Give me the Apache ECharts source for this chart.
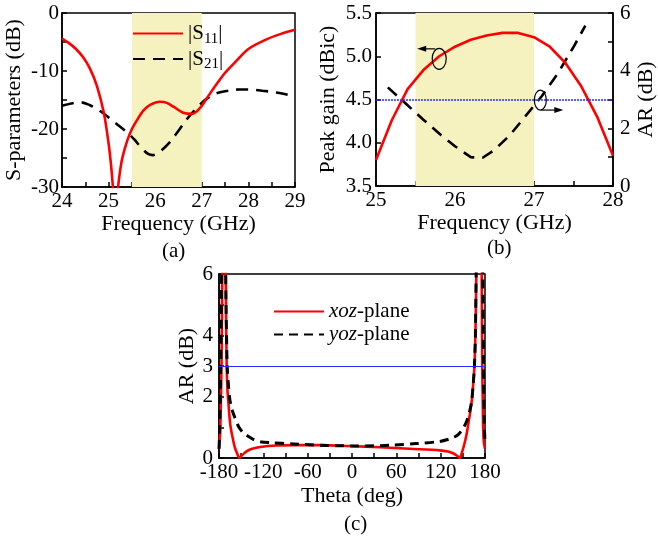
<!DOCTYPE html>
<html>
<head>
<meta charset="utf-8">
<script src="https://cdn.jsdelivr.net/npm/echarts@6/dist/echarts.min.js"></script>
<style>
  html, body { margin: 0; padding: 0; background: #fff; }
  #chart { width: 658px; height: 542px; }
</style>
</head>
<body>
<div id="chart"></div>
<script>
// ---- (a) S-parameters versus frequency ----
const s11Freq = [24, 24.15, 24.3, 24.45, 24.6, 24.75, 24.9, 25.0, 25.05, 25.1, 25.15, 25.2, 25.25, 25.3, 25.4, 25.5, 25.6, 25.75, 25.9, 26.1, 26.25, 26.4, 26.6, 26.8, 26.9, 27.0, 27.1, 27.2, 27.35, 27.5, 27.7, 28.0, 28.4, 28.7, 29];
const s11dB = [-4.4, -5.2, -6.2, -7.6, -9.6, -12.6, -17.3, -22.5, -26, -31, -40, -30.5, -27, -24.8, -22.0, -20.0, -18.6, -16.8, -15.8, -15.3, -15.5, -16.2, -17.2, -17.4, -16.9, -16.0, -14.8, -13.6, -11.9, -10.3, -8.6, -6.2, -4.5, -3.6, -2.9];
const s21Freq = [24, 24.2, 24.4, 24.6, 24.8, 25.0, 25.2, 25.4, 25.55, 25.7, 25.85, 25.95, 26.1, 26.3, 26.5, 26.7, 26.9, 27.1, 27.3, 27.5, 27.8, 28.0, 28.3, 28.6, 28.8, 29];
const s21dB = [-16.0, -15.6, -15.4, -15.9, -16.8, -18.0, -19.3, -20.6, -21.8, -23.2, -24.3, -24.5, -23.9, -22.4, -20.3, -18.1, -16.3, -14.8, -13.9, -13.5, -13.2, -13.2, -13.4, -13.7, -14.0, -14.4];

// ---- (b) peak gain and axial ratio versus frequency ----
const gainFreq = [25.0, 25.2, 25.4, 25.6, 25.8, 26.0, 26.2, 26.4, 26.6, 26.8, 27.0, 27.2, 27.4, 27.6, 27.8, 28.0];
const gainDBic = [3.80, 4.26, 4.62, 4.84, 5.00, 5.11, 5.19, 5.24, 5.27, 5.27, 5.22, 5.11, 4.92, 4.65, 4.30, 3.85];
const arFreq = [25.15, 25.4, 25.6, 25.8, 26.0, 26.2, 26.35, 26.5, 26.7, 26.9, 27.1, 27.3, 27.5, 27.65];
const arDB = [3.42, 2.80, 2.30, 1.82, 1.38, 1.00, 0.98, 1.25, 1.78, 2.45, 3.12, 3.90, 4.82, 5.56];

// ---- (c) axial ratio versus theta ----
const xozTheta = [-180, -178.5, -177.5, -176.5, -175.5, -174.5, -173, -171.5, -170.5, -169.6, -168.5, -167.4, -166, -164.2, -161, -158.4, -155, -152.5, -150, -146, -142.5, -135, -124.5, -102, -75, -43, -3, 38, 78, 119, 130, 135, 140, 143, 146, 149, 152, 155, 158, 160, 162, 164, 165.6, 167, 168, 169, 171, 173, 174.5, 175.5, 176.3, 177, 177.6, 178.5, 180];
const xozAR = [0.3, 0.8, 1.8, 3.2, 6.5, 9, 10, 8, 5, 3.0, 2.2, 1.86, 1.4, 1.0, 0.6, 0.33, 0.12, 0.0, 0.06, 0.15, 0.22, 0.3, 0.36, 0.41, 0.42, 0.42, 0.39, 0.35, 0.30, 0.25, 0.21, 0.17, 0.11, 0.06, 0.0, 0.2, 0.45, 0.77, 1.2, 1.5, 1.86, 2.4, 2.94, 4.0, 5.5, 7.5, 10, 10, 8, 6, 3, 1.8, 0.9, 0.5, 0.3];
const yozTheta = [-180, -179, -178, -177, -176, -174, -172, -170.5, -169.5, -168.8, -167, -165, -162, -158.4, -153, -147, -140, -133.6, -124, -111, -79, -34, 11, 56, 87, 119, 132, 140, 144, 150, 155.2, 159, 162, 164, 165.6, 167, 168, 170, 173, 175.5, 177, 178, 179, 180];
const yozAR = [0.3, 1.0, 2.5, 4.5, 7, 9, 8, 5, 3.6, 2.94, 2.3, 1.86, 1.55, 1.31, 1.0, 0.82, 0.7, 0.61, 0.53, 0.5, 0.46, 0.41, 0.39, 0.42, 0.47, 0.54, 0.62, 0.7, 0.77, 0.95, 1.2, 1.5, 1.86, 2.4, 2.94, 4, 6, 9, 10, 9, 6, 3, 1.2, 0.5];

// band and threshold
const bandStart = 25.5, bandEnd = 27;
const arLimit = 3;

const FONT = '"Liberation Serif", "Times New Roman", serif';
const TICK = 21, NAME = 22;
const RED = '#ff0000', BLACK = '#000000', BLUE = '#2b2bff', SHADE = '#f6f2c0';

const pairs = (xs, ys) => xs.map((x, i) => [x, ys[i]]);

function xAx(grid, min, max, interval, labelEvery, name, gap) {
  return {
    type: 'value', gridIndex: grid, min, max, interval,
    name, nameLocation: 'middle', nameGap: gap,
    nameTextStyle: { fontFamily: FONT, fontSize: NAME, color: '#000' },
    axisLine: { show: true, onZero: false, lineStyle: { color: '#000', width: 1.5 } },
    axisTick: { show: true, inside: true, length: 5, lineStyle: { color: '#000', width: 1.5 } },
    axisLabel: {
      fontFamily: FONT, fontSize: TICK, color: '#000', margin: 4, showMinLabel: true, showMaxLabel: true,
      formatter: v => (Math.abs(Math.round(v / labelEvery) * labelEvery - v) < 1e-6 ? String(v) : '')
    },
    splitLine: { show: false }
  };
}
function yAx(grid, min, max, interval, fmt, name, gap, pos, margin) {
  return {
    type: 'value', gridIndex: grid, min, max, interval, position: pos || 'left',
    name, nameLocation: 'middle', nameGap: gap,
    nameTextStyle: { fontFamily: FONT, fontSize: NAME, color: '#000' },
    axisLine: { show: true, onZero: false, lineStyle: { color: '#000', width: 1.5 } },
    axisTick: { show: true, inside: true, length: 5, lineStyle: { color: '#000', width: 1.5 } },
    axisLabel: { fontFamily: FONT, fontSize: TICK, color: '#000', margin: margin, formatter: fmt },
    splitLine: { show: false }
  };
}

const chart = echarts.init(document.getElementById('chart'), null, { renderer: 'canvas' });

const option = {
  backgroundColor: '#fff',
  animation: false,
  textStyle: { fontFamily: FONT },
  grid: [
    { left: 62, top: 13, width: 233, height: 174, show: true, borderColor: '#000', borderWidth: 1.5, backgroundColor: 'transparent' },
    { left: 376, top: 13, width: 238, height: 173, show: true, borderColor: '#000', borderWidth: 1.5, backgroundColor: 'transparent' },
    { left: 219, top: 274, width: 266, height: 184, show: true, borderColor: '#000', borderWidth: 1.5, backgroundColor: 'transparent' }
  ],
  xAxis: [
    xAx(0, 24, 29, 0.5, 1, 'Frequency (GHz)', 25),
    xAx(1, 25, 28, 0.5, 1, 'Frequency (GHz)', 25),
    xAx(2, -180, 180, 30, 60, 'Theta (deg)', 27)
  ],
  yAxis: [
    yAx(0, -30, 0, 5, v => (v % 10 === 0 ? String(v) : ''), 'S-parameters (dB)', 37, 'left', 3),
    yAx(1, 3.5, 5.5, 0.5, v => v.toFixed(1), 'Peak gain (dBic)', 37, 'left', 4),
    yAx(1, 0, 6, 1, v => (v % 2 === 0 ? String(v) : ''), 'AR (dB)', 22, 'right', 7),
    yAx(2, 0, 6, 1, v => ([0, 2, 3, 4, 6].includes(v) ? String(v) : ''), 'AR (dB)', 20, 'left', 6)
  ],
  legend: [
    {
      left: 127, top: 18, orient: 'vertical', itemWidth: 50, itemHeight: 14, itemGap: 2,
      itemStyle: { opacity: 0 },
      data: ['S11', 'S21'],
      formatter: n => '{m||S}{s|' + n.slice(1) + '}{m||}',
      textStyle: {
        color: '#000', fontFamily: FONT, fontSize: TICK,
        rich: {
          m: { fontFamily: FONT, fontSize: TICK, lineHeight: 26, color: '#000' },
          s: { fontFamily: FONT, fontSize: 15, lineHeight: 12, verticalAlign: 'bottom', color: '#000' }
        }
      }
    },
    {
      left: 268, top: 296, orient: 'vertical', itemWidth: 50, itemHeight: 14, itemGap: 2,
      itemStyle: { opacity: 0 },
      data: ['xoz-plane', 'yoz-plane'],
      formatter: n => '{i|' + n.split('-')[0] + '}{m|-plane}',
      textStyle: {
        color: '#000', fontFamily: FONT, fontSize: TICK,
        rich: {
          i: { fontFamily: FONT, fontSize: TICK, fontStyle: 'italic', lineHeight: 26, color: '#000' },
          m: { fontFamily: FONT, fontSize: TICK, lineHeight: 26, color: '#000' }
        }
      }
    }
  ],
  series: [
    {
      name: 'S11', type: 'line', xAxisIndex: 0, yAxisIndex: 0, data: pairs(s11Freq, s11dB),
      smooth: 0.3, symbol: 'none', lineStyle: { color: RED, width: 2.6 }, itemStyle: { color: RED }, z: 3,
      markArea: { silent: true, itemStyle: { color: SHADE }, data: [[{ xAxis: bandStart }, { xAxis: bandEnd }]] }
    },
    {
      name: 'S21', type: 'line', xAxisIndex: 0, yAxisIndex: 0, data: pairs(s21Freq, s21dB),
      smooth: 0.35, symbol: 'none', lineStyle: { color: BLACK, width: 2.6, type: [12, 8] }, itemStyle: { color: BLACK }, z: 2
    },
    {
      name: 'gain', type: 'line', xAxisIndex: 1, yAxisIndex: 1, data: pairs(gainFreq, gainDBic),
      symbol: 'none', lineStyle: { color: RED, width: 2.6 }, itemStyle: { color: RED }, z: 3,
      markArea: { silent: true, itemStyle: { color: SHADE }, data: [[{ xAxis: bandStart }, { xAxis: bandEnd }]] }
    },
    {
      name: 'AR', type: 'line', xAxisIndex: 1, yAxisIndex: 2, data: pairs(arFreq, arDB),
      symbol: 'none', lineStyle: { color: BLACK, width: 2.6, type: [12, 8] }, itemStyle: { color: BLACK }, z: 2,
      markLine: { silent: true, symbol: 'none', label: { show: false }, lineStyle: { color: BLUE, width: 1.5, type: [2, 1] }, data: [{ yAxis: arLimit }] }
    },
    {
      name: 'xoz-plane', type: 'line', xAxisIndex: 2, yAxisIndex: 3, data: pairs(xozTheta, xozAR),
      smooth: 0.3, symbol: 'none', lineStyle: { color: RED, width: 2.6 }, itemStyle: { color: RED }, z: 3,
      markLine: { silent: true, symbol: 'none', label: { show: false }, lineStyle: { color: BLUE, width: 1.2, type: 'solid' }, data: [{ yAxis: arLimit }] }
    },
    {
      name: 'yoz-plane', type: 'line', xAxisIndex: 2, yAxisIndex: 3, data: pairs(yozTheta, yozAR),
      smooth: 0.3, symbol: 'none', lineStyle: { color: BLACK, width: 3, type: [9, 6] }, itemStyle: { color: BLACK }, z: 4
    }
  ],
  graphic: [
    { type: 'text', left: 162, top: 241, style: { text: '(a)', font: '21px ' + FONT, fill: '#000' } },
    { type: 'text', left: 487, top: 238, style: { text: '(b)', font: '21px ' + FONT, fill: '#000' } },
    { type: 'text', left: 344, top: 514, style: { text: '(c)', font: '21px ' + FONT, fill: '#000' } }
  ]
};
chart.setOption(option);

// Pointer ellipses with arrows telling which axis each curve of (b) uses
const p1 = chart.convertToPixel({ xAxisIndex: 1, yAxisIndex: 1 }, [25.8, 4.97]);
const p2 = chart.convertToPixel({ xAxisIndex: 1, yAxisIndex: 2 }, [27.08, 2.98]);
function arrow(x1, y1, x2, y2) {
  const dir = Math.sign(x2 - x1);
  return [
    { type: 'line', shape: { x1, y1, x2: x2 - dir * 6, y2 }, style: { stroke: '#000', lineWidth: 1.2 }, z: 10 },
    { type: 'polygon', shape: { points: [[x2, y2], [x2 - dir * 9, y2 - 3], [x2 - dir * 9, y2 + 3]] }, style: { fill: '#000' }, z: 10 }
  ];
}
chart.setOption({
  graphic: option.graphic.concat([
    { type: 'ellipse', shape: { cx: p1[0], cy: p1[1], rx: 7, ry: 10.5 }, style: { fill: 'none', stroke: '#000', lineWidth: 1.2 }, z: 10 },
    ...arrow(p1[0] - 4, p1[1] - 10, p1[0] - 22, p1[1] - 10),
    { type: 'ellipse', shape: { cx: p2[0], cy: p2[1], rx: 6, ry: 10 }, style: { fill: 'none', stroke: '#000', lineWidth: 1.2 }, z: 10 },
    ...arrow(p2[0] + 1, p2[1] + 10, p2[0] + 23, p2[1] + 10)
  ])
});
</script>
</body>
</html>
